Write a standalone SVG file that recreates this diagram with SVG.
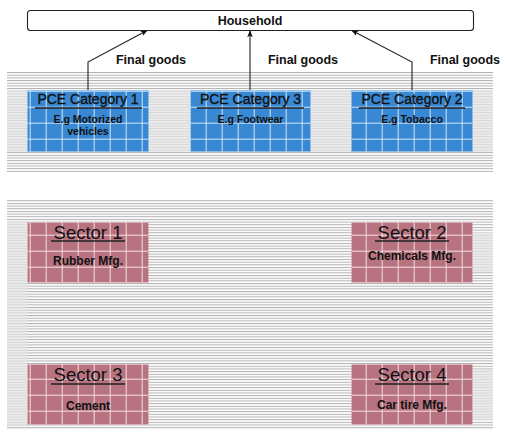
<svg xmlns="http://www.w3.org/2000/svg" width="505" height="435" viewBox="0 0 505 435">
<style>
.t{font-family:"Liberation Sans","DejaVu Sans",sans-serif;fill:#111;text-anchor:middle}
.b{font-weight:bold}
.h{stroke:#111;stroke-width:0.35}
.conn{fill:none;stroke:#222;stroke-width:1.1}
.blue{fill:url(#gridB);stroke:#8cc0ee;stroke-width:1;stroke-dasharray:1,1}
.pink{fill:url(#gridP);stroke:#e6b8c0;stroke-width:1;stroke-dasharray:1,1}
.ul{stroke:#222;stroke-width:1.4}
.band{fill:#e4e4e4;opacity:0.75}
</style>
<defs>
<pattern id="hl" patternUnits="userSpaceOnUse" width="8" height="2.67">
<rect width="8" height="2.67" fill="#fff"/>
<rect y="0" width="8" height="1" fill="#b0b0b0"/>
</pattern>
<pattern id="gridB" patternUnits="userSpaceOnUse" x="13.7" y="10.7" width="16" height="16">
<rect width="16" height="16" fill="#3888d4"/>
<rect x="0" y="0" width="16" height="1" fill="#cfe4f8"/>
<rect x="0" y="0" width="1" height="16" fill="#cfe4f8"/>
</pattern>
<pattern id="gridP" patternUnits="userSpaceOnUse" x="13.7" y="10.7" width="16" height="16">
<rect width="16" height="16" fill="#b87380"/>
<rect x="0" y="0" width="16" height="1" fill="#f3dde1"/>
<rect x="0" y="0" width="1" height="16" fill="#f3dde1"/>
</pattern>
<marker id="ah" viewBox="0 0 10 10" refX="9" refY="5" markerWidth="7" markerHeight="7" orient="auto" markerUnits="userSpaceOnUse">
<path d="M0,1 L10,5 L0,9 L2.5,5 Z" fill="#111"/>
</marker>
</defs>
<rect width="505" height="435" fill="#fff"/>
<g id="background">
<rect x="7" y="71" width="486" height="101" fill="url(#hl)"/>
<rect x="7" y="199" width="486" height="231" fill="url(#hl)"/>
<rect class="band" x="7" y="90" width="486" height="62"/>
<rect class="band" x="7" y="222" width="20" height="203"/>
<rect class="band" x="473" y="232" width="20" height="40"/>
<rect class="band" x="473" y="370" width="20" height="50"/>
</g>
<g id="household">
<rect x="27.5" y="10.5" width="446" height="20" rx="3" fill="#fff" stroke="#222" stroke-width="1.1"/>
<text class="t b" x="250" y="25" font-size="12.5">Household</text>
</g>
<g id="connectors">
<path class="conn" d="M88,90 L88,62 L147,30.5" marker-end="url(#ah)"/>
<path class="conn" d="M250,90 L250,31" marker-end="url(#ah)"/>
<path class="conn" d="M412,90 L412,62 L352,30.5" marker-end="url(#ah)"/>
<text class="t b" x="151" y="64" font-size="12.5">Final goods</text>
<text class="t b" x="303" y="64" font-size="12.5">Final goods</text>
<text class="t b" x="465" y="64" font-size="12.5">Final goods</text>
</g>
<g id="pce1">
<rect class="blue" x="27.5" y="90.5" width="121" height="61"/>
<text class="t h" x="88" y="104" font-size="14">PCE Category 1</text>
<line class="ul" x1="35" y1="108" x2="142" y2="108"/>
<text class="t b" x="88" y="123" font-size="10.5">E.g Motorized</text>
<text class="t b" x="88" y="135" font-size="10.5">vehicles</text>
</g>
<g id="pce3">
<rect class="blue" x="190.5" y="90.5" width="120" height="61"/>
<text class="t h" x="250.5" y="104" font-size="14">PCE Category 3</text>
<line class="ul" x1="197" y1="108" x2="304" y2="108"/>
<text class="t b" x="250.5" y="123" font-size="10.5">E.g Footwear</text>
</g>
<g id="pce2">
<rect class="blue" x="351.5" y="90.5" width="121" height="61"/>
<text class="t h" x="412" y="104" font-size="14">PCE Category 2</text>
<line class="ul" x1="359" y1="108" x2="465" y2="108"/>
<text class="t b" x="412" y="123" font-size="10.5">E.g Tobacco</text>
</g>
<g id="sector1">
<rect class="pink" x="27.5" y="222.5" width="121" height="60"/>
<text class="t" x="88" y="239" font-size="18.5">Sector 1</text>
<line class="ul" x1="51" y1="241" x2="125" y2="241"/>
<text class="t b" x="88" y="265" font-size="12">Rubber Mfg.</text>
</g>
<g id="sector2">
<rect class="pink" x="351.5" y="222.5" width="121" height="60"/>
<text class="t" x="412" y="239" font-size="18.5">Sector 2</text>
<line class="ul" x1="375" y1="241" x2="449" y2="241"/>
<text class="t b" x="412" y="260" font-size="12">Chemicals Mfg.</text>
</g>
<g id="sector3">
<rect class="pink" x="27.5" y="364.5" width="121" height="60"/>
<text class="t" x="88" y="381" font-size="18.5">Sector 3</text>
<line class="ul" x1="51" y1="384" x2="125" y2="384"/>
<text class="t b" x="88" y="410" font-size="12">Cement</text>
</g>
<g id="sector4">
<rect class="pink" x="351.5" y="364.5" width="121" height="60"/>
<text class="t" x="412" y="381" font-size="18.5">Sector 4</text>
<line class="ul" x1="375" y1="384" x2="449" y2="384"/>
<text class="t b" x="412" y="409" font-size="12">Car tire Mfg.</text>
</g>
</svg>
